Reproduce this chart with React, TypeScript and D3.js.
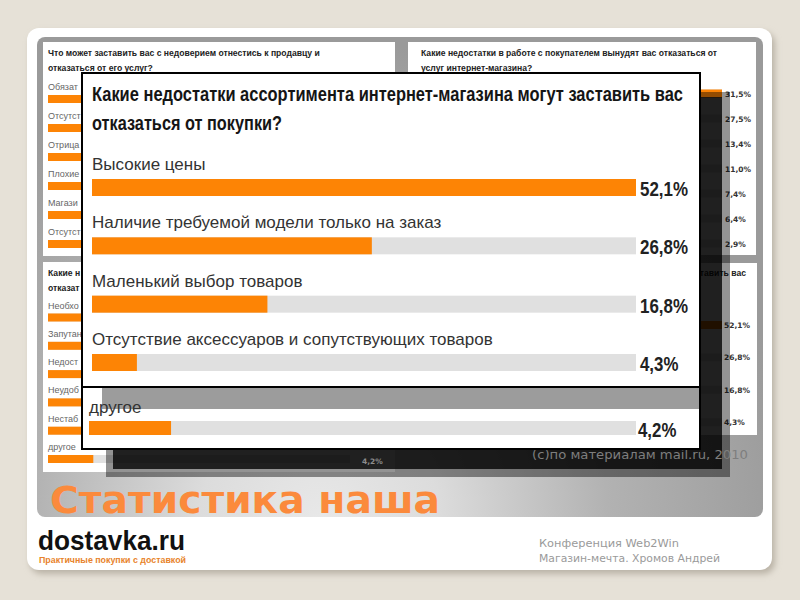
import React from "react";
import * as d3 from "d3";

// ---- main (enlarged) chart ----
const mainTitle = [
  "Какие недостатки ассортимента интернет-магазина могут заставить вас",
  "отказаться от покупки?",
];
const mainCategories = [
  "Высокие цены",
  "Наличие требуемой модели только на заказ",
  "Маленький выбор товаров",
  "Отсутствие аксессуаров и сопутствующих товаров",
];
const mainValues = [52.1, 26.8, 16.8, 4.3];
const mainLabels = ["52,1%", "26,8%", "16,8%", "4,3%"];

// ---- strip pasted from the bottom-left chart ----
const otherCategory = "другое";
const otherValue = 4.2;
const otherLabel = "4,2%";

// ---- background small charts ----
const tlTitle = [
  "Что может заставить вас с недоверием отнестись к продавцу и",
  "отказаться от его услуг?",
];
const tlCategories = ["Обязат", "Отсутст", "Отрица", "Плохие", "Магази", "Отсутст"];
const tlValues = [38.2, 21.5, 14.6, 11.3, 8.7, 5.7]; // mostly hidden, estimated

const trTitle = [
  "Какие недостатки в работе с покупателем вынудят вас отказаться от",
  "услуг интернет-магазина?",
];
const trValues = [31.5, 27.5, 13.4, 11.0, 7.4, 6.4, 2.9];
const trLabels = ["31,5%", "27,5%", "13,4%", "11,0%", "7,4%", "6,4%", "2,9%"];

const blTitle = ["Какие н", "отказат"];
const blCategories = ["Необхо", "Запутан", "Недост", "Неудоб", "Нестаб", "другое"];
const blValues = [28.0, 22.4, 18.6, 14.9, 11.9, 4.2]; // mostly hidden, estimated
const blLabels = ["", "", "", "", "", "4,2%"];

const brTitle = mainTitle;
const brValues = mainValues;
const brLabels = mainLabels;

// ---- texts of the slide ----
const slideHeading = "Статистика наша";
const sourceNote = "(с)по материалам mail.ru, 2010";
const logoText = "dostavka.ru";
const logoSub = "Практичные покупки с доставкой";
const footerLines = ["Конференция Web2Win", "Магазин-мечта. Хромов Андрей"];

const ORANGE = "#fd8405";
const TRACK = "#e0e0e0";
const SANS = "'Liberation Sans', Arial, sans-serif";
const DEJAVU = "'DejaVu Sans', Verdana, sans-serif";

function SmallChart(props: {
  box: [number, number, number, number];
  title: string[];
  titlePos: { x: number; anchor: "start" | "end" }[];
  titleY: number;
  categories?: string[];
  values: number[];
  labels?: string[];
  x0: number;
  x1: number;
  rowY0: number;
  rowStep: number;
  labelDy: number;
  labelX: number;
  valueX: number;
}) {
  const { box, values } = props;
  const x = d3.scaleLinear().domain([0, d3.max(values)!]).range([props.x0, props.x1]);
  const y = d3
    .scaleLinear()
    .domain([0, values.length - 1])
    .range([props.rowY0, props.rowY0 + props.rowStep * (values.length - 1)]);
  return (
    <g>
      <rect x={box[0]} y={box[1]} width={box[2] - box[0]} height={box[3] - box[1]} fill="#fff" />
      {props.title.map((t, i) => (
        <text
          key={i}
          x={props.titlePos[i].x}
          y={props.titleY + i * 15}
          fontFamily={SANS}
          fontWeight="bold"
          fontSize={8.6}
          fill="#222"
          textAnchor={props.titlePos[i].anchor}
        >
          {t}
        </text>
      ))}
      {values.map((v, i) => (
        <g key={i}>
          {props.categories && (
            <text x={props.labelX} y={y(i) + props.labelDy} fontFamily={SANS} fontSize={9} fill="#666">
              {props.categories[i]}
            </text>
          )}
          <rect x={props.x0} y={y(i) - 4} width={props.x1 - props.x0} height={8} fill={TRACK} />
          <rect x={props.x0} y={y(i) - 4} width={x(v) - props.x0} height={8} fill={ORANGE} />
          {props.labels && props.labels[i] && (
            <text
              x={props.valueX}
              y={y(i) + 3}
              fontFamily={DEJAVU}
              fontWeight="bold"
              fontSize={7.5}
              fill="#333"
            >
              {props.labels[i]}
            </text>
          )}
        </g>
      ))}
    </g>
  );
}

export default function App() {
  // main chart scales
  const mx = d3.scaleLinear().domain([0, d3.max(mainValues)!]).range([92, 636]);
  const my = d3
    .scaleLinear()
    .domain([0, mainValues.length - 1])
    .range([179, 354]);
  const barH = 17;
  // pasted strip uses the bottom-left chart's scale
  const ox = d3.scaleLinear().domain([0, d3.max(blValues)!]).range([89, 636]);

  return (
    <svg
      width={800}
      height={600}
      viewBox="0 0 800 600"
      style={{ position: "fixed", left: 0, top: 0 }}
    >
      <defs>
        <radialGradient id="panelGrad" gradientUnits="userSpaceOnUse" cx={320} cy={520} r={480}>
          <stop offset="0" stopColor="#e8e8e8" />
          <stop offset="0.25" stopColor="#dcdcdc" />
          <stop offset="0.6" stopColor="#b2b2b2" />
          <stop offset="1" stopColor="#9a9a9a" />
        </radialGradient>
        <filter id="blur4" x="-10%" y="-10%" width="120%" height="120%">
          <feGaussianBlur stdDeviation="3" />
        </filter>
        <filter id="blur1">
          <feGaussianBlur stdDeviation="0.6" />
        </filter>
        <clipPath id="panelClip">
          <rect x={37} y={37} width={726} height={480} rx={8} />
        </clipPath>
      </defs>

      {/* page & slide card */}
      <rect x={0} y={0} width={800} height={600} fill="#e6e1d7" />
      <rect x={30} y={32} width={745} height={542} rx={12} fill="#b9b2a6" filter="url(#blur4)" />
      <rect x={27} y={28} width={745} height={542} rx={12} fill="#ffffff" />

      {/* gray panel */}
      <rect x={37} y={37} width={726} height={480} rx={8} fill="url(#panelGrad)" />

      <g clipPath="url(#panelClip)">
        {/* top-left */}
        <SmallChart
          box={[43, 42, 395, 256]}
          title={tlTitle}
          titlePos={[{ x: 48, anchor: "start" }, { x: 48, anchor: "start" }]}
          titleY={56}
          categories={tlCategories}
          values={tlValues}
          x0={48}
          x1={350}
          rowY0={99}
          rowStep={29}
          labelDy={-9}
          labelX={48}
          valueX={362}
        />
        {/* top-right */}
        <SmallChart
          box={[408, 42, 756, 255]}
          title={trTitle}
          titlePos={[{ x: 421, anchor: "start" }, { x: 421, anchor: "start" }]}
          titleY={56}
          values={trValues}
          labels={trLabels}
          x0={413}
          x1={722}
          rowY0={93.5}
          rowStep={25}
          labelDy={-9}
          labelX={413}
          valueX={725}
        />
        {/* bottom-left */}
        <SmallChart
          box={[43, 262, 395, 472]}
          title={blTitle}
          titlePos={[{ x: 48, anchor: "start" }, { x: 48, anchor: "start" }]}
          titleY={276}
          categories={blCategories}
          values={blValues}
          x0={48}
          x1={350}
          rowY0={317.5}
          rowStep={28.3}
          labelDy={-9}
          labelX={48}
          valueX={362}
        />
        {/* bottom-right */}
        <SmallChart
          box={[408, 263, 757, 435]}
          title={brTitle}
          titlePos={[{ x: 746, anchor: "end" }, { x: 413, anchor: "start" }]}
          titleY={276}
          values={brValues}
          labels={brLabels}
          x0={413}
          x1={722}
          rowY0={325}
          rowStep={32.4}
          labelDy={-9}
          labelX={413}
          valueX={724}
        />

        {/* shadows of the pasted picture */}
        <rect x={106} y={92} width={624} height={385} fill="#000" opacity={0.42} filter="url(#blur1)" />
        <rect x={113} y={97} width={609} height={372} fill="#000" opacity={0.78} />
      </g>

      {/* ghost value seen through the shadow */}
      <text x={362} y={464} fontFamily={DEJAVU} fontWeight="bold" fontSize={7.5} fill="#8c8c8c">
        {blLabels[5]}
      </text>

      {/* source note */}
      <text
        x={532}
        y={459}
        fontFamily={DEJAVU}
        fontSize={12.5}
        fill="#7e7e7e"
        textLength={216}
        lengthAdjust="spacingAndGlyphs"
      >
        {sourceNote}
      </text>

      {/* main enlarged chart */}
      <g>
        <rect x={82} y={73} width={618} height={314} fill="#fff" />
        {mainTitle.map((t, i) => (
          <text
            key={i}
            x={92}
            y={101 + i * 29}
            fontFamily={SANS}
            fontWeight="bold"
            fontSize={20}
            fill="#151515"
            textLength={i === 0 ? 591 : 190}
            lengthAdjust="spacingAndGlyphs"
          >
            {t}
          </text>
        ))}
        {mainValues.map((v, i) => (
          <g key={i}>
            <text x={92} y={my(i) - 9} fontFamily={SANS} fontSize={17} fill="#333">
              {mainCategories[i]}
            </text>
            <rect x={mx(0)} y={my(i)} width={mx.range()[1] - mx(0)} height={barH} fill={TRACK} />
            <rect x={mx(0)} y={my(i)} width={mx(v) - mx(0)} height={barH} fill={ORANGE} />
            <text
              x={640}
              y={my(i) + barH}
              fontFamily={SANS}
              fontWeight="bold"
              fontSize={21}
              fill="#222"
              textLength={mainLabels[i].length * 9.6}
              lengthAdjust="spacingAndGlyphs"
            >
              {mainLabels[i]}
            </text>
          </g>
        ))}

        {/* pasted strip "другое" */}
        <rect x={82} y={387} width={618} height={62} fill="#fff" />
        <rect x={102} y={388} width={598} height={21} fill="#9c9c9c" />
        <text x={89} y={413} fontFamily={SANS} fontSize={17} fill="#333">
          {otherCategory}
        </text>
        <rect x={ox(0)} y={421} width={ox.range()[1] - ox(0)} height={14} fill={TRACK} />
        <rect x={ox(0)} y={421} width={ox(otherValue) - ox(0)} height={14} fill={ORANGE} />
        <text
          x={638}
          y={437}
          fontFamily={SANS}
          fontWeight="bold"
          fontSize={20}
          fill="#222"
          textLength={otherLabel.length * 9.6}
          lengthAdjust="spacingAndGlyphs"
        >
          {otherLabel}
        </text>

        {/* borders */}
        <line x1={82} x2={700} y1={387} y2={387} stroke="#000" strokeWidth={2} />
        <rect x={82} y={73} width={618} height={376} fill="none" stroke="#000" strokeWidth={2} />
      </g>

      {/* slide heading */}
      <text
        x={50}
        y={513}
        fontFamily={DEJAVU}
        fontWeight="bold"
        fontSize={37}
        fill="#fb8a3c"
        textLength={390}
        lengthAdjust="spacingAndGlyphs"
      >
        {slideHeading}
      </text>

      {/* logo */}
      <text
        x={38}
        y={550}
        fontFamily={SANS}
        fontWeight="bold"
        fontSize={28}
        fill="#111"
        textLength={147}
        lengthAdjust="spacingAndGlyphs"
      >
        {logoText}
      </text>
      <text
        x={39}
        y={563}
        fontFamily={SANS}
        fontWeight="bold"
        fontSize={8.5}
        fill="#e8832b"
        textLength={147}
        lengthAdjust="spacingAndGlyphs"
      >
        {logoSub}
      </text>

      {/* footer */}
      {footerLines.map((t, i) => (
        <text
          key={i}
          x={539}
          y={547 + i * 15}
          fontFamily={DEJAVU}
          fontSize={11}
          fill="#9a9a9a"
          textLength={i === 0 ? 140 : 181}
          lengthAdjust="spacingAndGlyphs"
        >
          {t}
        </text>
      ))}
    </svg>
  );
}
